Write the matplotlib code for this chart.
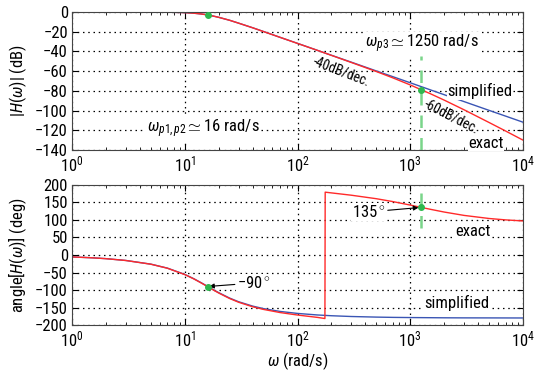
import matplotlib
matplotlib.use('Agg')
from matplotlib import pyplot as plt
import numpy as np

# values
w_mag = [1, 2, 3, 5, 7, 10, 12, 14, 16, 18, 20, 25, 30, 40, 50, 70, 100, 150,
         200, 300, 500, 700, 1000, 1500, 2000, 3000, 5000, 7000, 10000]
mag_exact = [0.0, 0.0, 0.0, -0.1, -0.2, -0.6, -1.2, -2.0, -3.0, -4.2, -5.4, -8.4,
             -11.3, -16.0, -19.9, -25.7, -31.9, -38.9, -44.0, -51.2, -60.4, -66.8,
             -74.0, -82.8, -89.4, -99.2, -112.1, -120.7, -130.0]
mag_simple = [0.0, 0.0, 0.0, 0.0, -0.2, -0.6, -1.2, -2.0, -3.0, -4.2, -5.4, -8.4,
              -11.3, -16.0, -19.8, -25.7, -31.8, -38.9, -43.9, -50.9, -59.8, -65.6,
              -71.8, -78.9, -83.9, -90.9, -99.8, -105.6, -111.8]

w_ph_exact = [1, 1.5, 2, 3, 5, 7, 10, 12, 14, 16, 18, 20, 25, 30, 40, 50, 70, 100,
              150, 175, 176, 200, 300, 500, 700, 1000, 1250, 1500, 2000, 3000,
              5000, 7000, 10000]
ph_exact = [-5.5, -8.0, -10.5, -15.7, -26.3, -37.7, -55.9, -68.1, -79.9, -90.7,
            -100.3, -108.6, -124.3, -134.9, -147.9, -155.5, -164.4, -171.5, -178.2,
            -181.5, 179.5, 177.4, 170.8, 160.8, 152.6, 142.6, 136.0, 130.7, 122.7,
            113.1, 104.3, 100.3, 97.3]
w_ph_simple = [1, 1.5, 2, 3, 5, 7, 10, 12, 14, 16, 18, 20, 25, 30, 40, 50, 70, 100,
               150, 200, 300, 500, 700, 1000, 1500, 2000, 3000, 5000, 10000]
ph_simple = [-5.5, -7.9, -10.4, -15.6, -26.1, -37.4, -55.4, -67.6, -79.3, -90.0,
             -99.5, -107.6, -123.1, -133.5, -146.0, -153.2, -161.2, -166.9, -171.3,
             -173.5, -175.7, -177.4, -178.2, -178.7, -179.1, -179.4, -179.6, -179.7,
             -179.9]

w_marks = [16, 1250]
mag_marks = [-3.0, -78.7]
ph_marks = [-90.0, 136.0]

plt.rcParams['font.family'] = ['Roboto Condensed', 'DejaVu Sans']
plt.rcParams['font.size'] = 11
plt.rcParams['mathtext.fontset'] = 'custom'
plt.rcParams['mathtext.rm'] = 'Roboto Condensed'
plt.rcParams['mathtext.it'] = 'Roboto Condensed:italic'
plt.rcParams['axes.unicode_minus'] = True

red = '#ff2a2a'
blue = '#3a55b4'
green = '#2fb84f'
lgreen = '#7ad58a'
grid_ls = (0, (1.2, 3.0))
box = dict(fc='white', ec='none', pad=0.5)

fig = plt.figure(figsize=(5.35, 3.75), dpi=100)
ax1 = fig.add_axes([0.1346, 0.6, 0.843, 0.368])
ax2 = fig.add_axes([0.1346, 0.1333, 0.843, 0.3734])

# magnitude
ax1.semilogx(w_mag, mag_simple, color=blue, lw=1.0)
ax1.semilogx(w_mag, mag_exact, color=red, lw=1.0)
ax1.vlines(1250, -140, -45, colors=lgreen, lw=1.8, linestyles=(0, (5, 4)))
ax1.plot(w_marks, mag_marks, 'o', color=green, ms=4, zorder=5)
ax1.set_ylim(-140, 0)
ax1.set_yticks(np.arange(-140, 1, 20))
ax1.set_ylabel(r'$|H(\omega)|$ (dB)', fontsize=12)
ax1.text(4.6, -118, r'$\omega_{p1,p2}\simeq$16 rad/s', va='center', fontsize=12, bbox=box)
ax1.text(398, -32.5, r'$\omega_{p3}\simeq$1250 rad/s', va='center', fontsize=12, bbox=box)
ax1.text(2130, -80, 'simplified', va='center', fontsize=12, bbox=box)
ax1.text(3270, -133, 'exact', va='center', fontsize=12, bbox=box)
ax1.text(245, -60, '-40dB/dec.', rotation=-21, ha='center', va='center',
         fontsize=10, rotation_mode='anchor')
ax1.text(2300, -106, '-60dB/dec.', rotation=-27, ha='center', va='center',
         fontsize=10, rotation_mode='anchor')

# phase
ax2.semilogx(w_ph_simple, ph_simple, color=blue, lw=1.0)
ax2.semilogx(w_ph_exact, ph_exact, color=red, lw=1.0)
ax2.vlines(1250, 78, 200, colors=lgreen, lw=1.8, linestyles=(0, (5, 4)))
ax2.plot(w_marks, ph_marks, 'o', color=green, ms=4, zorder=5)
ax2.set_ylim(-200, 200)
ax2.set_yticks(np.arange(-200, 201, 50))
ax2.set_ylabel(r'angle[$H(\omega)$] (deg)', fontsize=12)
ax2.set_xlabel(r'$\omega$ (rad/s)', fontsize=12, labelpad=1)
ax2.annotate(r'$-$90$^\circ$', xy=(16, -90), xytext=(29, -80), va='center',
             fontsize=12, bbox=box,
             arrowprops=dict(arrowstyle='-|>', color='black', lw=0.8,
                             mutation_scale=7, shrinkA=1, shrinkB=1))
ax2.annotate(r'135$^\circ$', xy=(1250, 136), xytext=(305, 123), va='center',
             fontsize=12, bbox=box,
             arrowprops=dict(arrowstyle='-|>', color='black', lw=0.8,
                             mutation_scale=7, shrinkA=1, shrinkB=2))
ax2.text(2500, 66, 'exact', va='center', fontsize=12, bbox=box)
ax2.text(1330, -137, 'simplified', va='center', fontsize=12, bbox=box)

for ax in (ax1, ax2):
    ax.set_xlim(1, 1e4)
    ax.grid(True, which='major', color='black', linestyle=grid_ls, lw=0.9)
    ax.tick_params(which='both', direction='in', top=True, right=True)
    ax.tick_params(which='major', length=4, labelsize=12, pad=3)
    ax.tick_params(which='minor', length=2.5)
    for s in ax.spines.values():
        s.set_color('#444444')

fig.savefig('out.png', dpi=100)
